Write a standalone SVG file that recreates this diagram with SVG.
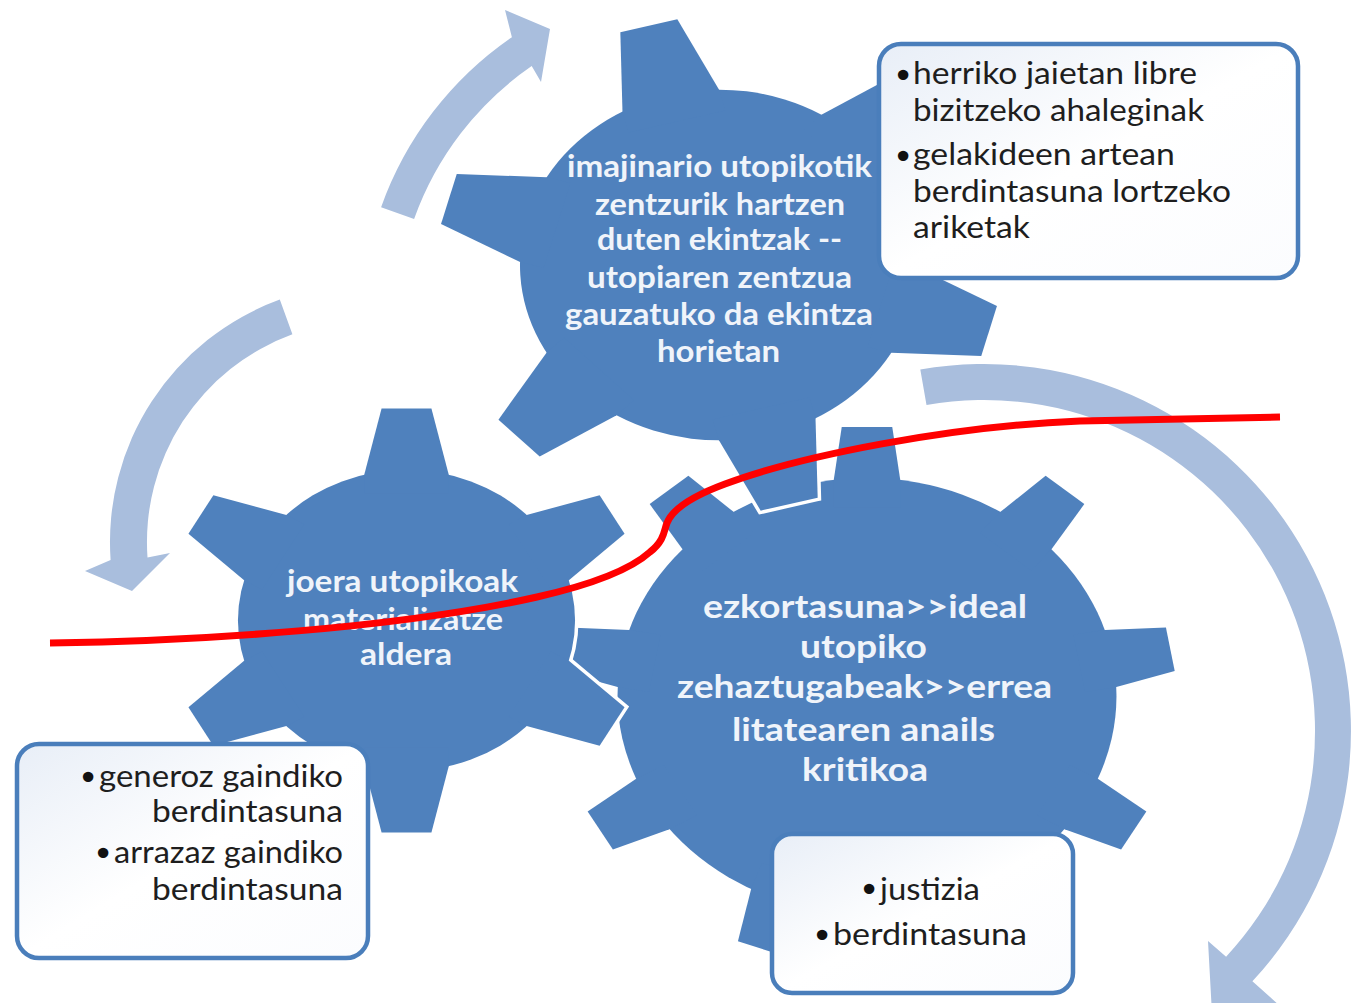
<svg xmlns="http://www.w3.org/2000/svg" xmlns:xlink="http://www.w3.org/1999/xlink" width="1355" height="1003" viewBox="0 0 1355 1003">
<defs>
<style>
.arrow{fill:#A9BEDD}
.gfill{fill:#4F81BD;stroke:none}
.gline{fill:#4F81BD;stroke:#FFFFFF;stroke-width:7;stroke-linejoin:miter}
.box{fill:url(#boxGrad);stroke:#4A7EBB;stroke-width:4.5}
.gt{font-family:Lato,"Open Sans","Liberation Sans",sans-serif;font-weight:700;font-size:31px;fill:#F0F4FA}
.gt2{font-family:Lato,"Open Sans","Liberation Sans",sans-serif;font-weight:700;font-size:33px;fill:#F0F4FA}
.bt{font-family:Lato,"Open Sans","Liberation Sans",sans-serif;font-size:31px;fill:#1E1E1E}
.bul{font-family:"DejaVu Sans","Liberation Sans",sans-serif;font-size:36px;fill:#111111;text-anchor:middle}
.red{fill:none;stroke:#FF0000;stroke-width:7}
</style>
<linearGradient id="boxGrad" x1="0" y1="0" x2="1" y2="1">
<stop offset="0" stop-color="#E8EEF7"/>
<stop offset="0.5" stop-color="#FFFFFF"/>
<stop offset="1" stop-color="#FBFCFE"/>
</linearGradient>
<polygon id="t6" points="-0.105,-1 0.105,-1 0.178,-0.687 0.178,-0.6 -0.178,-0.6 -0.178,-0.687" vector-effect="non-scaling-stroke"/>
<g id="gear6">
<circle r="0.71" vector-effect="non-scaling-stroke"/>
<use xlink:href="#t6"/>
<use xlink:href="#t6" transform="rotate(60)"/>
<use xlink:href="#t6" transform="rotate(120)"/>
<use xlink:href="#t6" transform="rotate(180)"/>
<use xlink:href="#t6" transform="rotate(240)"/>
<use xlink:href="#t6" transform="rotate(300)"/>
</g>
<polygon id="t9" points="-0.082,-1 0.082,-1 0.108,-0.803 0.108,-0.7 -0.108,-0.7 -0.108,-0.803" vector-effect="non-scaling-stroke"/>
<g id="gear9">
<circle r="0.81" vector-effect="non-scaling-stroke"/>
<use xlink:href="#t9"/>
<use xlink:href="#t9" transform="rotate(40)"/>
<use xlink:href="#t9" transform="rotate(80)"/>
<use xlink:href="#t9" transform="rotate(120)"/>
<use xlink:href="#t9" transform="rotate(160)"/>
<use xlink:href="#t9" transform="rotate(200)"/>
<use xlink:href="#t9" transform="rotate(240)"/>
<use xlink:href="#t9" transform="rotate(280)"/>
<use xlink:href="#t9" transform="rotate(320)"/>
</g>
</defs>
<rect x="0" y="0" width="1355" height="1003" fill="#FFFFFF"/>

<g id="connectors">
<path class="arrow" d="M381.1,207.2 A348,348 0 0 1 511.9,37.2 L505,10 L550,29 L541,82 L531.7,66.1 A313,313 0 0 0 414.1,219 Z"/>
<path class="arrow" d="M279.8,299.6 A258,258 0 0 0 110.6,560 L85,571 L132,591 L170,553 L147.5,557.4 A221,221 0 0 1 292.4,334.3 Z"/>
<path class="arrow" d="M920.3,369.6 A367,367 0 0 1 1252.4,981.3 L1280,1006 L1213,1032 L1208,941 L1226.1,956.7 A331,331 0 0 0 926.5,405 Z"/>
</g>

<g id="gear-big">
<use xlink:href="#gear9" class="gline" transform="translate(867,696) scale(308,269)"/>
<use xlink:href="#gear9" class="gfill" transform="translate(867,696) scale(308,269)"/>
<text class="gt2" x="703" y="618" textLength="324" lengthAdjust="spacingAndGlyphs">ezkortasuna&gt;&gt;ideal</text>
<text class="gt2" x="800" y="658" textLength="127" lengthAdjust="spacingAndGlyphs">utopiko</text>
<text class="gt2" x="677" y="698" textLength="375" lengthAdjust="spacingAndGlyphs">zehaztugabeak&gt;&gt;errea</text>
<text class="gt2" x="732" y="741" textLength="263" lengthAdjust="spacingAndGlyphs">litatearen anails</text>
<text class="gt2" x="802" y="781" textLength="126" lengthAdjust="spacingAndGlyphs">kritikoa</text>
</g>

<g id="gear-left">
<use xlink:href="#gear6" class="gline" transform="translate(406.5,620.5) scale(237.4,212)"/>
<use xlink:href="#gear6" class="gfill" transform="translate(406.5,620.5) scale(237.4,212)"/>
<text class="gt" x="287" y="592" textLength="231" lengthAdjust="spacingAndGlyphs">joera utopikoak</text>
<text class="gt" x="303" y="630" textLength="200" lengthAdjust="spacingAndGlyphs">materializatze</text>
<text class="gt" x="360" y="665" textLength="92" lengthAdjust="spacingAndGlyphs">aldera</text>
</g>

<g id="gear-top">
<use xlink:href="#gear6" class="gline" transform="translate(719,265) scale(280.3,247) rotate(-14.5)"/>
<use xlink:href="#gear6" class="gfill" transform="translate(719,265) scale(280.3,247) rotate(-14.5)"/>
<text class="gt" x="567" y="177" textLength="305" lengthAdjust="spacingAndGlyphs">imajinario utopikotik</text>
<text class="gt" x="595" y="215" textLength="250" lengthAdjust="spacingAndGlyphs">zentzurik hartzen</text>
<text class="gt" x="597" y="250" textLength="245" lengthAdjust="spacingAndGlyphs">duten ekintzak --</text>
<text class="gt" x="587" y="288" textLength="265" lengthAdjust="spacingAndGlyphs">utopiaren zentzua</text>
<text class="gt" x="565" y="325" textLength="308" lengthAdjust="spacingAndGlyphs">gauzatuko da ekintza</text>
<text class="gt" x="657" y="362" textLength="123" lengthAdjust="spacingAndGlyphs">horietan</text>
</g>

<g id="box-top">
<rect class="box" x="879" y="44" width="419" height="234" rx="22"/>
<text class="bul" x="903" y="88">•</text>
<text class="bt" x="913" y="84" textLength="284" lengthAdjust="spacingAndGlyphs">herriko jaietan libre</text>
<text class="bt" x="913" y="121" textLength="291" lengthAdjust="spacingAndGlyphs">bizitzeko ahaleginak</text>
<text class="bul" x="903" y="169">•</text>
<text class="bt" x="913" y="165" textLength="262" lengthAdjust="spacingAndGlyphs">gelakideen artean</text>
<text class="bt" x="913" y="202" textLength="318" lengthAdjust="spacingAndGlyphs">berdintasuna lortzeko</text>
<text class="bt" x="913" y="238" textLength="117" lengthAdjust="spacingAndGlyphs">ariketak</text>
</g>

<g id="box-left">
<rect class="box" x="17" y="744" width="351" height="214" rx="22"/>
<text class="bul" x="88" y="790">•</text>
<text class="bt" x="99" y="787" textLength="244" lengthAdjust="spacingAndGlyphs">generoz gaindiko</text>
<text class="bt" x="152" y="822" textLength="191" lengthAdjust="spacingAndGlyphs">berdintasuna</text>
<text class="bul" x="103" y="866">•</text>
<text class="bt" x="114" y="863" textLength="229" lengthAdjust="spacingAndGlyphs">arrazaz gaindiko</text>
<text class="bt" x="152" y="900" textLength="191" lengthAdjust="spacingAndGlyphs">berdintasuna</text>
</g>

<g id="box-bottom">
<rect class="box" x="772" y="834" width="301" height="159" rx="20"/>
<text class="bul" x="869" y="902">•</text>
<text class="bt" x="880" y="900" textLength="100" lengthAdjust="spacingAndGlyphs">justizia</text>
<text class="bul" x="822" y="948">•</text>
<text class="bt" x="833" y="945" textLength="194" lengthAdjust="spacingAndGlyphs">berdintasuna</text>
</g>

<path class="red" d="M50,643 C200,641 400,628 537,597 C590,585 630,570 650,552 C665,540 664,530 667,523 C672,510 690,497 725,484 C800,456 950,426 1080,421 L1280,417"/>
</svg>
